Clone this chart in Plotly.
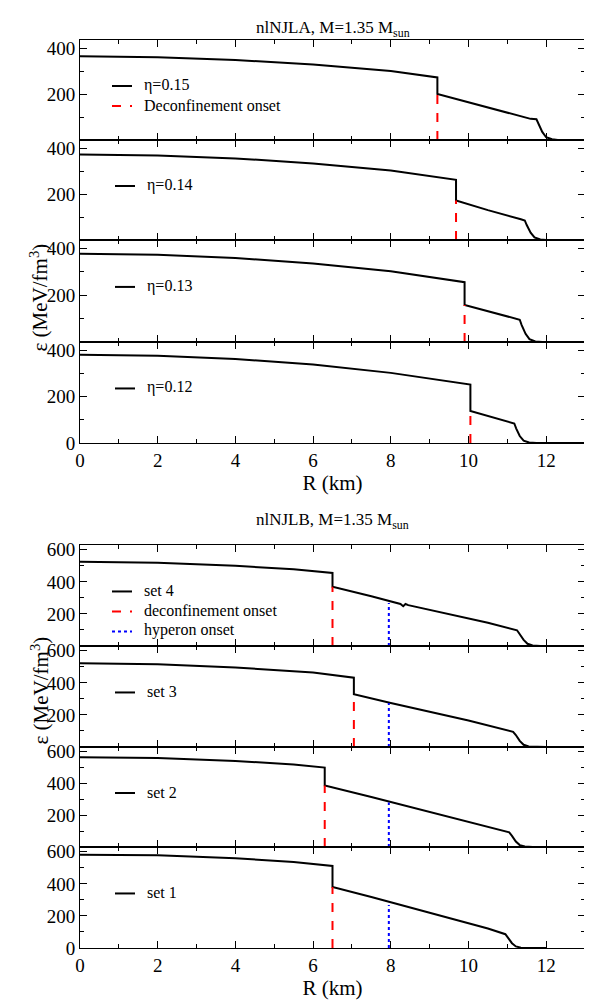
import plotly.graph_objects as go

# ---- nlNJLA panels (eta = 0.15, 0.14, 0.13, 0.12) ----
labels_a = ["η=0.15", "η=0.14", "η=0.13", "η=0.12"]
r_a = [
    [0, 2, 4, 6, 8, 9.2, 9.2, 10.5, 11.6, 11.75, 11.8, 11.9, 12.0, 12.15, 12.3, 12.5],
    [0, 2, 4, 6, 8, 9.68, 9.68, 10.5, 11.35, 11.45, 11.5, 11.6, 11.7, 11.85, 12.0, 13.0],
    [0, 2, 4, 6, 8, 9.9, 9.9, 10.6, 11.25, 11.32, 11.37, 11.47, 11.57, 11.72, 11.9, 13.0],
    [0, 2, 4, 6, 8, 10.05, 10.05, 10.7, 11.12, 11.18, 11.23, 11.32, 11.42, 11.56, 11.75, 13.0],
]
e_a = [
    [364, 360, 348, 328, 300, 272, 200, 140, 92, 90, 70, 35, 12, 3, 0, 0],
    [372, 368, 355, 333, 302, 262, 172, 130, 90, 85, 65, 32, 11, 2, 0, 0],
    [376, 372, 358, 335, 302, 255, 158, 128, 100, 95, 72, 35, 12, 2, 0, 0],
    [380, 376, 362, 338, 302, 252, 138, 108, 88, 84, 62, 30, 10, 2, 0, 0],
]
deconf_a = [9.2, 9.68, 9.9, 10.05]
deconf_top_a = [200, 172, 158, 138]

# ---- nlNJLB panels (set 4, 3, 2, 1) ----
labels_b = ["set 4", "set 3", "set 2", "set 1"]
r_b = [
    [0, 2, 4, 5.5, 6.5, 6.5, 7.5, 8.25, 8.32, 8.38, 8.45, 9.5, 10.5, 11.25, 11.32, 11.42, 11.52, 11.65, 11.85, 12.0],
    [0, 2, 4, 6, 7.05, 7.05, 8.0, 9.0, 10.0, 11.15, 11.22, 11.32, 11.42, 11.55, 11.75, 12.0],
    [0, 2, 4, 5.5, 6.3, 6.3, 7.5, 8.5, 9.5, 10.5, 11.05, 11.12, 11.22, 11.32, 11.45, 11.65, 12.0],
    [0, 2, 4, 5.5, 6.5, 6.5, 7.5, 8.5, 9.5, 10.5, 10.95, 11.02, 11.12, 11.22, 11.35, 11.55, 12.0],
]
e_b = [
    [525, 520, 500, 478, 456, 370, 310, 262, 248, 262, 255, 200, 145, 98, 75, 38, 14, 3, 0, 0],
    [522, 516, 496, 464, 432, 330, 275, 220, 165, 95, 75, 38, 14, 3, 0, 0],
    [565, 560, 542, 520, 500, 388, 315, 252, 190, 128, 92, 70, 34, 12, 3, 0, 0],
    [582, 578, 560, 536, 512, 380, 318, 252, 188, 122, 86, 64, 30, 10, 2, 0, 0],
]
deconf_b = [6.5, 7.05, 6.3, 6.5]
deconf_top_b = [370, 330, 388, 380]
hyperon_r = 7.95
hyperon_top_b = [268, 275, 280, 268]

W, H = 592, 1002
OFF = 8  # page offset of the plot div
XL, XR = (80 - OFF) / W, (585 - OFF) / W
panels_px = [(40, 140), (140, 240), (240, 342), (342, 443),
             (545, 646), (646, 747), (747, 847), (847, 948)]
FONT = "Liberation Serif"

fig = go.Figure()
layout = {}

all_r = r_a + r_b
all_e = e_a + e_b
all_lab = labels_a + labels_b
all_dx = deconf_a + deconf_b
all_dy = deconf_top_a + deconf_top_b


def py(p):
    return 1 - (p - OFF) / H


def px(p):
    return (p - OFF) / W


for i in range(8):
    n = i + 1
    xa = "x" if n == 1 else f"x{n}"
    ya = "y" if n == 1 else f"y{n}"
    top, bot = panels_px[i]
    group_b = i >= 4
    last = i in (3, 7)
    fig.add_trace(go.Scatter(x=all_r[i], y=all_e[i], mode="lines", xaxis=xa, yaxis=ya,
                             line=dict(color="black", width=2), showlegend=False))
    fig.add_trace(go.Scatter(x=[all_dx[i], all_dx[i]], y=[0, all_dy[i]], mode="lines",
                             xaxis=xa, yaxis=ya, showlegend=False,
                             line=dict(color="red", width=2, dash="dash")))
    if group_b:
        fig.add_trace(go.Scatter(x=[hyperon_r, hyperon_r], y=[0, hyperon_top_b[i - 4]],
                                 mode="lines", xaxis=xa, yaxis=ya, showlegend=False,
                                 line=dict(color="blue", width=2, dash="dot")))
    ymax = 630 if group_b else 435
    tv = [0, 200, 400, 600] if group_b else [0, 200, 400]
    if not last:
        tv = tv[1:]
    common = dict(showline=True, mirror="ticks", linecolor="black", linewidth=1,
                  ticks="inside", ticklen=7, tickcolor="black", showgrid=False,
                  zeroline=False, automargin=False,
                  tickfont=dict(family=FONT, size=19, color="black"))
    layout["xaxis" if n == 1 else f"xaxis{n}"] = dict(
        common, domain=[XL, XR], anchor=ya, range=[0, 13], tickvals=[0, 2, 4, 6, 8, 10, 12],
        showticklabels=last,
        minor=dict(tickvals=[1, 3, 5, 7, 9, 11, 13], ticks="inside", ticklen=4, tickcolor="black"),
        title=dict(text="R (km)", font=dict(family=FONT, size=21, color="black"), standoff=0) if last else None)
    layout["yaxis" if n == 1 else f"yaxis{n}"] = dict(
        common, domain=[py(bot), py(top)], anchor=xa, range=[0, ymax], tickvals=tv,
        minor=dict(dtick=100, ticks="inside", ticklen=4, tickcolor="black"))

    # legend-like labels inside each panel
    yl = top + 0.46 * (bot - top)
    x0, x1 = (112 if i == 0 or i == 4 else 115), (132 if i == 0 or i == 4 else 135)
    rows = [(all_lab[i], dict(color="black", width=2))]
    if i == 0:
        rows.append(("Deconfinement onset", dict(color="red", width=2, dash="dash")))
    if i == 4:
        rows.append(("deconfinement onset", dict(color="red", width=2, dash="dash")))
        rows.append(("hyperon onset", dict(color="blue", width=2, dash="dot")))
    for k, (txt, ln) in enumerate(rows):
        yy = yl + 20 * k
        fig.add_shape(type="line", xref="paper", yref="paper", x0=px(x0), x1=px(x1),
                      y0=py(yy), y1=py(yy), line=ln)
        fig.add_annotation(xref="paper", yref="paper", x=px(x1 + 10), y=py(yy - 1), text=txt,
                           showarrow=False, xanchor="left", yanchor="middle",
                           font=dict(family=FONT, size=16, color="black"))

for ttl, ypx in [("nlNJLA, M=1.35 M<sub>sun</sub>", 16), ("nlNJLB, M=1.35 M<sub>sun</sub>", 521)]:
    fig.add_annotation(xref="paper", yref="paper", x=(XL + XR) / 2, y=py(ypx), text=ttl,
                       showarrow=False, font=dict(family=FONT, size=17, color="black"))
for ypx in [242, 747]:
    fig.add_annotation(xref="paper", yref="paper", x=px(24), y=py(ypx),
                       text="ε (MeV/fm<sup>3</sup>)", textangle=-90, showarrow=False,
                       font=dict(family=FONT, size=21, color="black"))

fig.update_layout(layout)
fig.update_layout(width=W, height=H, margin=dict(l=0, r=0, t=0, b=0, autoexpand=False),
                  font=dict(family=FONT, color="black"),
                  plot_bgcolor="white", paper_bgcolor="white", showlegend=False)
fig.write_html("out.html")
